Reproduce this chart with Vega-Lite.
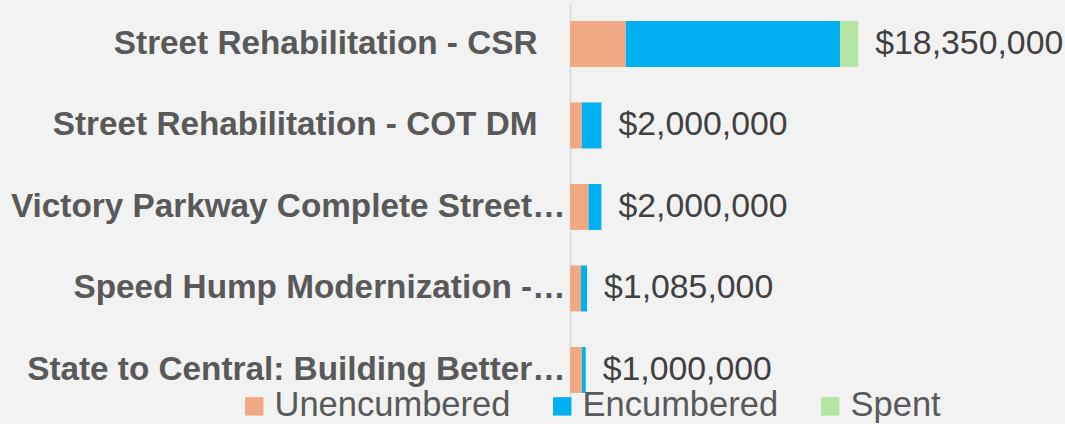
{
  "$schema": "https://vega.github.io/schema/vega-lite/v6.json",
  "autosize": {"type": "none"},
  "width": 487,
  "height": 395,
  "padding": {"left": 570, "top": 3, "right": 8, "bottom": 26},
  "background": "#F2F2F2",
  "config": {"view": {"stroke": null}},
  "datasets": {
    "segments": [
      {"project": "Street Rehabilitation - CSR", "status": "Unencumbered", "amount": 3550000},
      {"project": "Street Rehabilitation - CSR", "status": "Encumbered", "amount": 13650000},
      {"project": "Street Rehabilitation - CSR", "status": "Spent", "amount": 1150000},
      {"project": "Street Rehabilitation - COT DM", "status": "Unencumbered", "amount": 750000},
      {"project": "Street Rehabilitation - COT DM", "status": "Encumbered", "amount": 1250000},
      {"project": "Victory Parkway Complete Street…", "status": "Unencumbered", "amount": 1180000},
      {"project": "Victory Parkway Complete Street…", "status": "Encumbered", "amount": 820000},
      {"project": "Speed Hump Modernization -…", "status": "Unencumbered", "amount": 700000},
      {"project": "Speed Hump Modernization -…", "status": "Encumbered", "amount": 385000},
      {"project": "State to Central: Building Better…", "status": "Unencumbered", "amount": 760000},
      {"project": "State to Central: Building Better…", "status": "Encumbered", "amount": 240000}
    ],
    "totals": [
      {"project": "Street Rehabilitation - CSR", "total": 18350000},
      {"project": "Street Rehabilitation - COT DM", "total": 2000000},
      {"project": "Victory Parkway Complete Street…", "total": 2000000},
      {"project": "Speed Hump Modernization -…", "total": 1085000},
      {"project": "State to Central: Building Better…", "total": 1000000}
    ]
  },
  "encoding": {
    "y": {
      "field": "project",
      "type": "nominal",
      "sort": null,
      "scale": {
        "domain": [
          "Street Rehabilitation - CSR",
          "Street Rehabilitation - COT DM",
          "Victory Parkway Complete Street…",
          "Speed Hump Modernization -…",
          "State to Central: Building Better…"
        ],
        "paddingInner": 0.436,
        "paddingOuter": 0.141,
        "align": 0.78
      },
      "axis": {
        "title": null,
        "ticks": false,
        "domainColor": "#D9D9D9",
        "domainWidth": 1.5,
        "labelFont": "Liberation Sans",
        "labelFontWeight": "bold",
        "labelFontSize": 33.3,
        "labelColor": "#595959",
        "labelLimit": 0,
        "labelPadding": {"condition": {"test": "indexof(datum.label, '…') >= 0", "value": 5}, "value": 33}
      }
    }
  },
  "layer": [
    {
      "data": {"name": "segments"},
      "transform": [
        {"calculate": "indexof(['Unencumbered','Encumbered','Spent'], datum.status)", "as": "stackOrder"}
      ],
      "mark": {"type": "bar"},
      "encoding": {
        "x": {
          "field": "amount",
          "type": "quantitative",
          "stack": "zero",
          "scale": {"domain": [0, 31000000], "nice": false},
          "axis": null
        },
        "order": {"field": "stackOrder", "type": "quantitative", "sort": "ascending"},
        "color": {
          "field": "status",
          "type": "nominal",
          "sort": ["Unencumbered", "Encumbered", "Spent"],
          "scale": {
            "domain": ["Unencumbered", "Encumbered", "Spent"],
            "range": ["#F1A983", "#00B0F0", "#B4E5A2"]
          },
          "legend": {
            "title": null,
            "orient": "none",
            "direction": "horizontal",
            "legendX": -333,
            "legendY": 386,
            "padding": 0,
            "symbolType": "square",
            "symbolSize": 340,
            "symbolStrokeWidth": 0,
            "symbolOpacity": 1,
            "labelFont": "Liberation Sans",
            "labelFontSize": 34.5,
            "labelColor": "#595959",
            "labelOffset": 3,
            "columnPadding": 34,
            "labelLimit": 0
          }
        }
      }
    },
    {
      "data": {"name": "totals"},
      "mark": {
        "type": "text",
        "align": "left",
        "baseline": "middle",
        "dx": 17,
        "font": "Liberation Sans",
        "fontSize": 33.8,
        "color": "#404040"
      },
      "encoding": {
        "x": {"field": "total", "type": "quantitative"},
        "text": {"field": "total", "type": "quantitative", "format": "$,.0f"}
      }
    }
  ]
}
